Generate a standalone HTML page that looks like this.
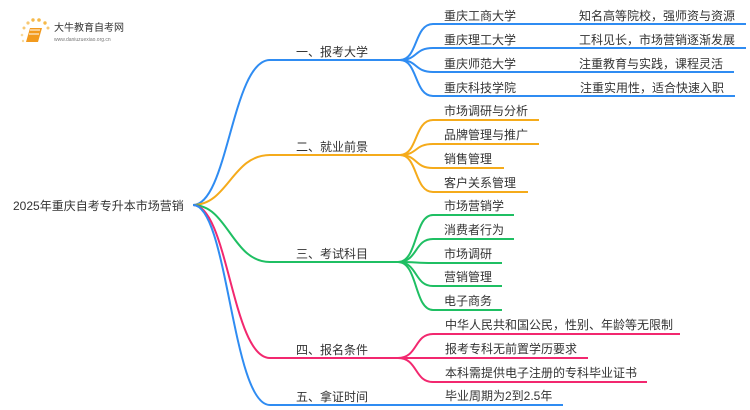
<!DOCTYPE html>
<html><head><meta charset="utf-8"><style>
html,body{margin:0;padding:0;background:#fff;width:750px;height:410px;overflow:hidden}
svg text{font-family:"Liberation Sans","Noto Sans CJK SC",sans-serif;fill:#333;font-size:12px}
</style></head><body>
<svg width="750" height="410" viewBox="0 0 750 410" xmlns="http://www.w3.org/2000/svg">
<g>
<circle cx="24" cy="28" r="1.5" fill="#f7c873"/><circle cx="28" cy="23" r="1.6" fill="#f7c873"/><circle cx="33" cy="20" r="1.7" fill="#f5b94a"/><circle cx="39" cy="20" r="1.8" fill="#f5b94a"/><circle cx="45" cy="23" r="1.7" fill="#f5b94a"/><circle cx="48" cy="28" r="1.5" fill="#f7c873"/><circle cx="22" cy="35" r="1.3" fill="#f9d99a"/><circle cx="23" cy="41" r="1.2" fill="#f9d99a"/>
<path d="M30 28 L42 28 L38 42 L26 42 Z" fill="#f29a1e"/>
<path d="M30 30 L40 30 M29 34 L39 34" stroke="#fff" stroke-width="1"/>
<text x="54" y="31" style="font-size:10px;fill:#333">大牛教育自考网</text>
<text x="54" y="41" style="font-size:5px;fill:#777">www.daniuzuexiao.org.cn</text>
</g>
<g fill="none" stroke-width="2">
<path d="M193 205 C228 205 232 60 270 60 L400 60" stroke="#2f8cf2"/>
<path d="M193 205 C228 205 232 155 270 155 L400 155" stroke="#f5ab1b"/>
<path d="M193 205 C228 205 232 262 270 262 L398 262" stroke="#1fbf63"/>
<path d="M193 205 C228 205 232 358 270 358 L398 358" stroke="#f2286f"/>
<path d="M193 205 C228 205 232 405 270 405 L563 405" stroke="#2f8cf2"/>
<g stroke="#2f8cf2">
<path d="M400 60 C418 60 414 24 433 24 L746 24"/>
<path d="M400 60 C418 60 414 48 433 48 L746 48"/>
<path d="M400 60 C418 60 414 72 433 72 L734 72"/>
<path d="M400 60 C418 60 414 96 433 96 L735 96"/>
</g>
<g stroke="#f5ab1b">
<path d="M400 155 C418 155 414 120 433 120 L539 120"/>
<path d="M400 155 C418 155 414 144 433 144 L539 144"/>
<path d="M400 155 C418 155 414 168 433 168 L504 168"/>
<path d="M400 155 C418 155 414 192 433 192 L528 192"/>
</g>
<g stroke="#1fbf63">
<path d="M398 262 C418 262 414 215 433 215 L514 215"/>
<path d="M398 262 C418 262 414 239 433 239 L514 239"/>
<path d="M398 262 C418 262 414 263 433 263 L502 263"/>
<path d="M398 262 C418 262 414 286 433 286 L502 286"/>
<path d="M398 262 C418 262 414 310 433 310 L502 310"/>
</g>
<g stroke="#f2286f">
<path d="M398 358 C418 358 414 334 433 334 L680 334"/>
<path d="M398 358 C418 358 414 358 433 358 L588 358"/>
<path d="M398 358 C418 358 414 382 433 382 L647 382"/>
</g>
</g>
<text x="13" y="210">2025年重庆自考专升本市场营销</text>
<text x="296" y="56">一、报考大学</text>
<text x="296" y="151">二、就业前景</text>
<text x="296" y="258">三、考试科目</text>
<text x="296" y="354">四、报名条件</text>
<text x="296" y="401">五、拿证时间</text>
<g>
<text x="444" y="20">重庆工商大学</text>
<text x="444" y="44">重庆理工大学</text>
<text x="444" y="68">重庆师范大学</text>
<text x="444" y="92">重庆科技学院</text>
<text x="579" y="20">知名高等院校，强师资与资源</text>
<text x="579" y="44">工科见长，市场营销逐渐发展</text>
<text x="579" y="68">注重教育与实践，课程灵活</text>
<text x="580" y="92">注重实用性，适合快速入职</text>
<text x="444" y="115">市场调研与分析</text>
<text x="444" y="139">品牌管理与推广</text>
<text x="444" y="163">销售管理</text>
<text x="444" y="187">客户关系管理</text>
<text x="444" y="210">市场营销学</text>
<text x="444" y="234">消费者行为</text>
<text x="444" y="258">市场调研</text>
<text x="444" y="281">营销管理</text>
<text x="444" y="305">电子商务</text>
<text x="445" y="329">中华人民共和国公民，性别、年龄等无限制</text>
<text x="445" y="353">报考专科无前置学历要求</text>
<text x="445" y="377">本科需提供电子注册的专科毕业证书</text>
<text x="445" y="400">毕业周期为2到2.5年</text>
</g>
</svg>
</body></html>
